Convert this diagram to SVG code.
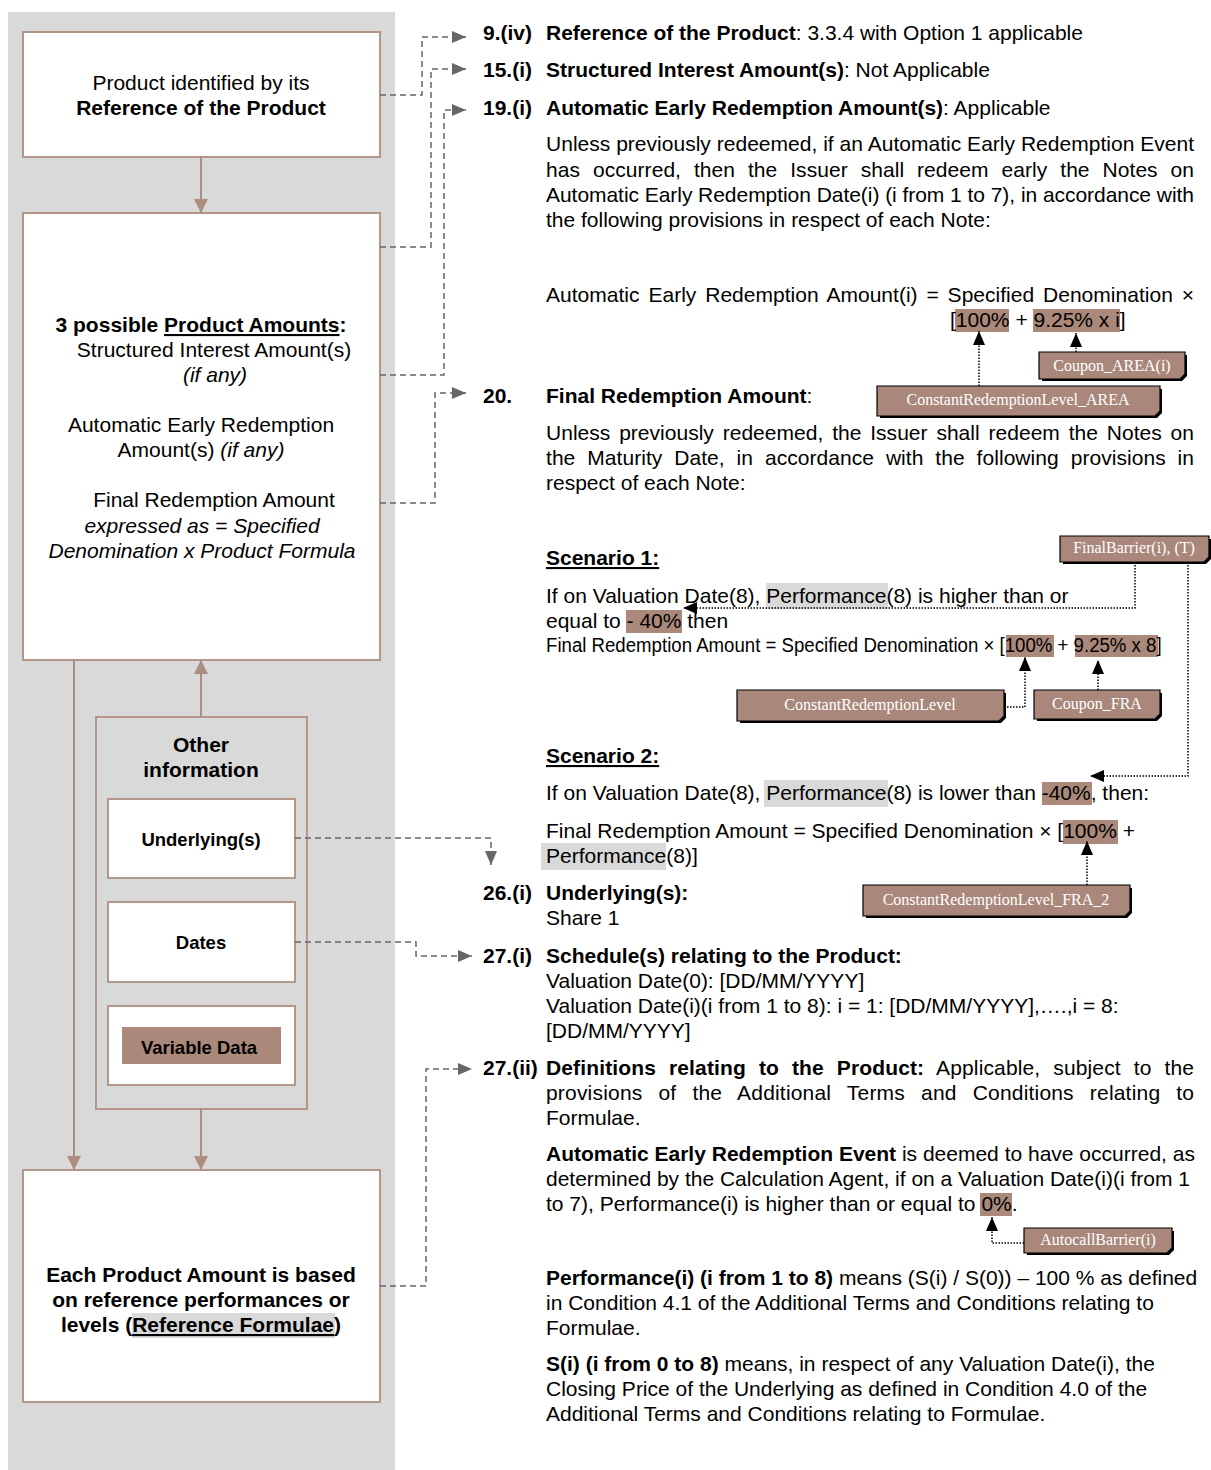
<svg xmlns="http://www.w3.org/2000/svg" width="1211" height="1470" viewBox="0 0 1211 1470">
<defs>
<style>
text{font-family:"Liberation Sans",Arial,Helvetica,sans-serif;font-size:21px;fill:#000}
.b{font-weight:bold}
.i{font-style:italic}
.u{text-decoration:underline}
.c{text-anchor:middle}
.box{fill:#fff;stroke:#B39788;stroke-width:2}
.grp{fill:none;stroke:#B39788;stroke-width:2}
.panel{fill:#D9D9D9}
.hl{fill:#AA887A}
.hg{fill:#D9D9D9}
.sm{font-size:18.5px;font-weight:bold}
.lbl text{font-family:"Liberation Serif","Times New Roman",serif;font-size:16px;fill:#fff;text-anchor:middle}
.lbl .f{fill:#A9877A;stroke:#000;stroke-width:1.2}
.lbl .s{fill:#000}
.flow{stroke:#AD8D7F;stroke-width:2;fill:none}
.dash{stroke:#666;stroke-width:1.5;stroke-dasharray:6 4;fill:none}
.dot{stroke:#000;stroke-width:1.5;stroke-dasharray:1.5 1.5;fill:none}
</style>
<marker id="ab" markerUnits="userSpaceOnUse" markerWidth="14" markerHeight="14" refX="14" refY="7" orient="auto"><path d="M0,0 L14,7 L0,14 Z" fill="#AD8D7F"/></marker>
<marker id="ag" markerUnits="userSpaceOnUse" markerWidth="14" markerHeight="12" refX="14" refY="6" orient="auto"><path d="M0,0 L14,6 L0,12 Z" fill="#666"/></marker>
<marker id="ak" markerUnits="userSpaceOnUse" markerWidth="14" markerHeight="12" refX="14" refY="6" orient="auto"><path d="M0,0 L14,6 L0,12 Z" fill="#000"/></marker>
</defs>
<rect width="1211" height="1470" fill="#fff"/>
<rect class="panel" x="8" y="12" width="387" height="1458"/>

<g id="product-reference">
<rect class="box" x="23" y="32" width="357" height="125"/>
<text class="c" x="201" y="90">Product identified by its</text>
<text class="c b" x="201" y="115">Reference of the Product</text>
</g>

<g id="product-amounts">
<rect class="box" x="23" y="213" width="357" height="447"/>
<text class="c b" x="201" y="332">3 possible <tspan class="u">Product Amounts</tspan>:</text>
<text class="c" x="214" y="357">Structured Interest Amount(s)</text>
<text class="c i" x="215" y="382">(if any)</text>
<text class="c" x="201" y="432">Automatic Early Redemption</text>
<text class="c" x="201" y="457">Amount(s) <tspan class="i">(if any)</tspan></text>
<text class="c" x="214" y="507">Final Redemption Amount</text>
<text class="c i" x="202" y="533">expressed as = Specified</text>
<text class="c i" x="202" y="558">Denomination x Product Formula</text>
</g>

<g id="other-information">
<rect class="grp" x="96" y="717" width="211" height="392"/>
<text class="c b" x="201" y="752">Other</text>
<text class="c b" x="201" y="777">information</text>
</g>
<g id="underlyings">
<rect class="box" x="108" y="799" width="187" height="79"/>
<text class="c sm" x="201" y="846">Underlying(s)</text>
</g>
<g id="dates">
<rect class="box" x="108" y="902" width="187" height="80"/>
<text class="c sm" x="201" y="949">Dates</text>
</g>
<g id="variable-data">
<rect class="box" x="108" y="1006" width="187" height="79"/>
<rect class="hl" x="122" y="1027" width="159" height="37"/>
<text class="c sm" x="199" y="1054">Variable Data</text>
</g>

<g id="reference-formulae">
<rect class="box" x="23" y="1170" width="357" height="232"/>
<rect class="hg" x="132" y="1313" width="203" height="25"/>
<text class="c b" x="201" y="1282">Each Product Amount is based</text>
<text class="c b" x="201" y="1307">on reference performances or</text>
<text class="c b" x="201" y="1332">levels (<tspan class="u">Reference Formulae</tspan>)</text>
</g>

<g id="highlights">
<rect class="hl" x="955" y="309" width="54" height="23"/>
<rect class="hl" x="1033" y="309" width="87" height="23"/>
<rect class="hg" x="766" y="583" width="122" height="26"/>
<rect class="hl" x="626" y="610" width="56" height="23"/>
<rect class="hl" x="1006" y="635" width="48" height="22"/>
<rect class="hl" x="1075" y="635" width="83" height="22"/>
<rect class="hg" x="764" y="780" width="124" height="27"/>
<rect class="hl" x="1042" y="782" width="50" height="23"/>
<rect class="hl" x="1063" y="820" width="55" height="24"/>
<rect class="hg" x="541" y="843" width="125" height="27"/>
<rect class="hl" x="980" y="1193" width="32" height="23"/>
</g>

<g id="terms">
<text class="b" x="483" y="40">9.(iv)</text>
<text x="546" y="40"><tspan class="b">Reference of the Product</tspan>: 3.3.4 with Option 1 applicable</text>
<text class="b" x="483" y="77">15.(i)</text>
<text x="546" y="77"><tspan class="b">Structured Interest Amount(s)</tspan>: Not Applicable</text>
<text class="b" x="483" y="115">19.(i)</text>
<text x="546" y="115"><tspan class="b">Automatic Early Redemption Amount(s)</tspan>: Applicable</text>
<text x="546" y="151" textLength="648" lengthAdjust="spacing">Unless previously redeemed, if an Automatic Early Redemption Event</text>
<text x="546" y="177" word-spacing="7" textLength="648" lengthAdjust="spacing">has occurred, then the Issuer shall redeem early the Notes on</text>
<text x="546" y="202" textLength="648" lengthAdjust="spacing">Automatic Early Redemption Date(i) (i from 1 to 7), in accordance with</text>
<text x="546" y="227">the following provisions in respect of each Note:</text>
<text x="546" y="302" word-spacing="3" textLength="648" lengthAdjust="spacing">Automatic Early Redemption Amount(i) = Specified Denomination ×</text>
<text x="950" y="327">[100% + 9.25% x i]</text>

<text class="b" x="483" y="403">20.</text>
<text x="546" y="403"><tspan class="b">Final Redemption Amount</tspan>:</text>
<text x="546" y="440" word-spacing="3" textLength="648" lengthAdjust="spacing">Unless previously redeemed, the Issuer shall redeem the Notes on</text>
<text x="546" y="465" word-spacing="6" textLength="648" lengthAdjust="spacing">the Maturity Date, in accordance with the following provisions in</text>
<text x="546" y="490">respect of each Note:</text>

<text class="b u" x="546" y="565">Scenario 1:</text>
<text x="546" y="603">If on Valuation Date(8), Performance(8) is higher than or</text>
<text x="546" y="628">equal to - 40% then</text>
<text transform="translate(546,652) scale(0.8875,1)" x="0" y="0">Final Redemption Amount = Specified Denomination × [100% + 9.25% x 8]</text>

<text class="b u" x="546" y="763">Scenario 2:</text>
<text x="546" y="800">If on Valuation Date(8), Performance(8) is lower than -40%, then:</text>
<text x="546" y="838">Final Redemption Amount = Specified Denomination × [100% +</text>
<text x="546" y="863">Performance(8)]</text>

<text class="b" x="483" y="900">26.(i)</text>
<text class="b" x="546" y="900">Underlying(s):</text>
<text x="546" y="925">Share 1</text>

<text class="b" x="483" y="963">27.(i)</text>
<text class="b" x="546" y="963">Schedule(s) relating to the Product:</text>
<text x="546" y="988">Valuation Date(0): [DD/MM/YYYY]</text>
<text x="546" y="1013">Valuation Date(i)(i from 1 to 8): i = 1: [DD/MM/YYYY],….,i = 8:</text>
<text x="546" y="1038">[DD/MM/YYYY]</text>

<text class="b" x="483" y="1075">27.(ii)</text>
<text x="546" y="1075" word-spacing="7" textLength="648" lengthAdjust="spacing"><tspan class="b">Definitions relating to the Product:</tspan> Applicable, subject to the</text>
<text x="546" y="1100" word-spacing="10" textLength="648" lengthAdjust="spacing">provisions of the Additional Terms and Conditions relating to</text>
<text x="546" y="1125">Formulae.</text>

<text x="546" y="1161"><tspan class="b">Automatic Early Redemption Event</tspan> is deemed to have occurred, as</text>
<text x="546" y="1186">determined by the Calculation Agent, if on a Valuation Date(i)(i from 1</text>
<text x="546" y="1211">to 7), Performance(i) is higher than or equal to 0%.</text>

<text x="546" y="1285"><tspan class="b">Performance(i) (i from 1 to 8)</tspan> means (S(i) / S(0)) – 100 % as defined</text>
<text x="546" y="1310">in Condition 4.1 of the Additional Terms and Conditions relating to</text>
<text x="546" y="1335">Formulae.</text>

<text x="546" y="1371"><tspan class="b">S(i) (i from 0 to 8)</tspan> means, in respect of any Valuation Date(i), the</text>
<text x="546" y="1396">Closing Price of the Underlying as defined in Condition 4.0 of the</text>
<text x="546" y="1421">Additional Terms and Conditions relating to Formulae.</text>
</g>

<g id="connectors">
<path class="flow" d="M201,157 V213" marker-end="url(#ab)"/>
<path class="flow" d="M201,717 V660" marker-end="url(#ab)"/>
<path class="flow" d="M74,660 V1170" marker-end="url(#ab)"/>
<path class="flow" d="M201,1109 V1170" marker-end="url(#ab)"/>

<path class="dash" d="M380,95 H422 V37 H466" marker-end="url(#ag)"/>
<path class="dash" d="M380,247 H431 V69 H466" marker-end="url(#ag)"/>
<path class="dash" d="M380,375 H444 V110 H466" marker-end="url(#ag)"/>
<path class="dash" d="M380,503 H435 V393 H466" marker-end="url(#ag)"/>
<path class="dash" d="M295,838 H491 V865" marker-end="url(#ag)"/>
<path class="dash" d="M295,942 H416 V956 H472" marker-end="url(#ag)"/>
<path class="dash" d="M380,1286 H426 V1069 H472" marker-end="url(#ag)"/>

<path class="dot" d="M979,386 V331" marker-end="url(#ak)"/>
<path class="dot" d="M1076,352 V333" marker-end="url(#ak)"/>
<path class="dot" d="M1135,562 V608 H683" marker-end="url(#ak)"/>
<path class="dot" d="M1188,562 V776 H1090" marker-end="url(#ak)"/>
<path class="dot" d="M1004,707 H1025 V657" marker-end="url(#ak)"/>
<path class="dot" d="M1098,690 V660" marker-end="url(#ak)"/>
<path class="dot" d="M1087,885 V841" marker-end="url(#ak)"/>
<path class="dot" d="M1024,1243 H992 V1217" marker-end="url(#ak)"/>
</g>

<g id="lbl-coupon-area" class="lbl">
<path class="s" d="M1042,355 H1187 V376 L1182,381 H1042 Z"/>
<path class="f" d="M1039,352 H1185 V374 L1180,379 H1039 Z"/>
<text x="1112" y="371">Coupon_AREA(i)</text>
</g>
<g id="lbl-crl-area" class="lbl">
<path class="s" d="M880,389 H1162 V413 L1157,418 H880 Z"/>
<path class="f" d="M877,386 H1160 V411 L1155,416 H877 Z"/>
<text x="1018" y="405">ConstantRedemptionLevel_AREA</text>
</g>
<g id="lbl-final-barrier" class="lbl">
<path class="s" d="M1063,539 H1211 V559 L1206,564 H1063 Z"/>
<path class="f" d="M1060,536 H1209 V557 L1204,562 H1060 Z"/>
<text x="1134" y="553">FinalBarrier(i), (T)</text>
</g>
<g id="lbl-crl" class="lbl">
<path class="s" d="M740,693 H1006 V718 L1001,723 H740 Z"/>
<path class="f" d="M737,690 H1004 V716 L999,721 H737 Z"/>
<text x="870" y="710">ConstantRedemptionLevel</text>
</g>
<g id="lbl-coupon-fra" class="lbl">
<path class="s" d="M1037,693 H1162 V716 L1157,721 H1037 Z"/>
<path class="f" d="M1034,690 H1160 V714 L1155,719 H1034 Z"/>
<text x="1097" y="709">Coupon_FRA</text>
</g>
<g id="lbl-crl-fra2" class="lbl">
<path class="s" d="M866,888 H1132 V913 L1127,918 H866 Z"/>
<path class="f" d="M863,885 H1130 V911 L1125,916 H863 Z"/>
<text x="996" y="905">ConstantRedemptionLevel_FRA_2</text>
</g>
<g id="lbl-autocall" class="lbl">
<path class="s" d="M1027,1231 H1174 V1250 L1169,1255 H1027 Z"/>
<path class="f" d="M1024,1228 H1172 V1248 L1167,1253 H1024 Z"/>
<text x="1098" y="1245">AutocallBarrier(i)</text>
</g>
</svg>
